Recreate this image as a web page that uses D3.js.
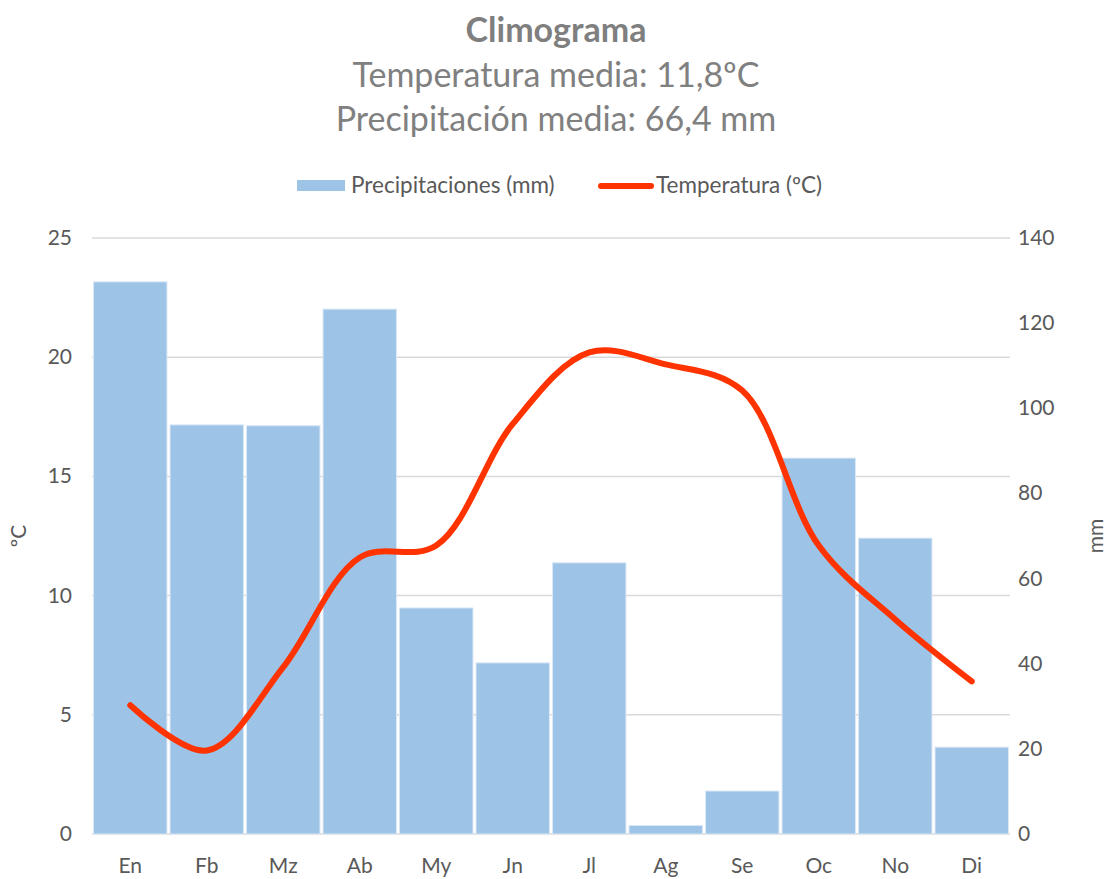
<!DOCTYPE html>
<html>
<head>
<meta charset="utf-8">
<script src="https://cdn.jsdelivr.net/npm/d3@7"></script>
<style>
  body { margin: 0; background: #fff; }
  text { font-family: Lato, "Open Sans", sans-serif; }
</style>
</head>
<body>
<script>
// canvas
var w = 1107, h = 879;

// data
var months = ["En", "Fb", "Mz", "Ab", "My", "Jn", "Jl", "Ag", "Se", "Oc", "No", "Di"];
var precip = [129.7, 96.1, 95.9, 123.3, 53.1, 40.2, 63.7, 2.0, 10.1, 88.3, 69.5, 20.4];
var temp = [5.4, 3.5, 7.0, 11.6, 12.1, 17.2, 20.2, 19.7, 18.6, 12.1, 9.0, 6.4];
var tempTicks = [0, 5, 10, 15, 20, 25];
var mmTicks = [0, 20, 40, 60, 80, 100, 120, 140];
var titleText = "Climograma";
var subtitles = ["Temperatura media: 11,8ºC", "Precipitación media: 66,4 mm"];

// plot box
var pLeft = 92, pRight = 1010, pTop = 238, pBottom = 834;

var svg = d3.select("body")
  .append("svg")
  .attr("width", w)
  .attr("height", h);

var x = d3.scaleBand()
  .domain(months)
  .range([pLeft, pRight])
  .paddingInner(0.04)
  .paddingOuter(0.02);

var yT = d3.scaleLinear().domain([0, 25]).range([pBottom, pTop]);
var yP = d3.scaleLinear().domain([0, 140]).range([pBottom, pTop]);

// gridlines (on the ºC axis)
svg.append("g")
  .selectAll("line")
  .data(tempTicks)
  .enter().append("line")
  .attr("x1", pLeft)
  .attr("x2", pRight)
  .attr("y1", function(d){ return yT(d); })
  .attr("y2", function(d){ return yT(d); })
  .style("stroke", "#d9d9d9")
  .style("stroke-width", 1.5);

// bars
svg.append("g")
  .selectAll("rect")
  .data(precip)
  .enter().append("rect")
  .attr("x", function(d, i){ return x(months[i]); })
  .attr("width", x.bandwidth())
  .attr("y", function(d){ return yP(d); })
  .attr("height", function(d){ return pBottom - yP(d); })
  .style("fill", "#9dc3e6")
  .style("stroke", "#dbe8f5")
  .style("stroke-width", 1);

// temperature line
var line = d3.line()
  .x(function(d, i){ return x(months[i]) + x.bandwidth() / 2; })
  .y(function(d){ return yT(d); })
  .curve(d3.curveCatmullRom.alpha(0.5));

svg.append("path")
  .datum(temp)
  .attr("d", line)
  .style("fill", "none")
  .style("stroke", "#ff3300")
  .style("stroke-width", 6)
  .style("stroke-linecap", "round")
  .style("stroke-linejoin", "round");

// left axis labels
svg.append("g")
  .selectAll("text")
  .data(tempTicks)
  .enter().append("text")
  .attr("x", 72)
  .attr("y", function(d){ return yT(d) + 7; })
  .attr("text-anchor", "end")
  .style("font-size", "21px")
  .style("fill", "#595959")
  .text(function(d){ return d; });

// right axis labels
svg.append("g")
  .selectAll("text")
  .data(mmTicks)
  .enter().append("text")
  .attr("x", 1018)
  .attr("y", function(d){ return yP(d) + 7; })
  .style("font-size", "21px")
  .style("fill", "#595959")
  .text(function(d){ return d; });

// month labels
svg.append("g")
  .selectAll("text")
  .data(months)
  .enter().append("text")
  .attr("x", function(d){ return x(d) + x.bandwidth() / 2; })
  .attr("y", 873)
  .attr("text-anchor", "middle")
  .style("font-size", "21px")
  .style("fill", "#595959")
  .text(function(d){ return d; });

// axis titles
svg.append("text")
  .attr("transform", "translate(26,536) rotate(-90)")
  .attr("text-anchor", "middle")
  .style("font-size", "21px")
  .style("fill", "#595959")
  .text("ºC");

svg.append("text")
  .attr("transform", "translate(1103,536) rotate(-90)")
  .attr("text-anchor", "middle")
  .style("font-size", "21px")
  .style("fill", "#595959")
  .text("mm");

// title
svg.append("text")
  .attr("x", 556)
  .attr("y", 42)
  .attr("text-anchor", "middle")
  .style("font-size", "34px")
  .style("font-weight", "bold")
  .style("fill", "#7f7f7f")
  .text(titleText);

svg.append("g")
  .selectAll("text")
  .data(subtitles)
  .enter().append("text")
  .attr("x", 556)
  .attr("y", function(d, i){ return 87 + i * 44; })
  .attr("text-anchor", "middle")
  .style("font-size", "34px")
  .style("fill", "#808080")
  .text(function(d){ return d; });

// legend
var lg = svg.append("g");
lg.append("rect")
  .attr("x", 297).attr("y", 180)
  .attr("width", 48).attr("height", 11)
  .style("fill", "#9dc3e6");
lg.append("text")
  .attr("x", 351).attr("y", 193)
  .style("font-size", "22.5px")
  .style("fill", "#595959")
  .text("Precipitaciones (mm)");
lg.append("line")
  .attr("x1", 601).attr("x2", 651)
  .attr("y1", 186).attr("y2", 186)
  .style("stroke", "#ff3300")
  .style("stroke-width", 6)
  .style("stroke-linecap", "round");
lg.append("text")
  .attr("x", 656).attr("y", 193)
  .style("font-size", "22.5px")
  .style("fill", "#595959")
  .text("Temperatura (ºC)");
</script>
</body>
</html>
